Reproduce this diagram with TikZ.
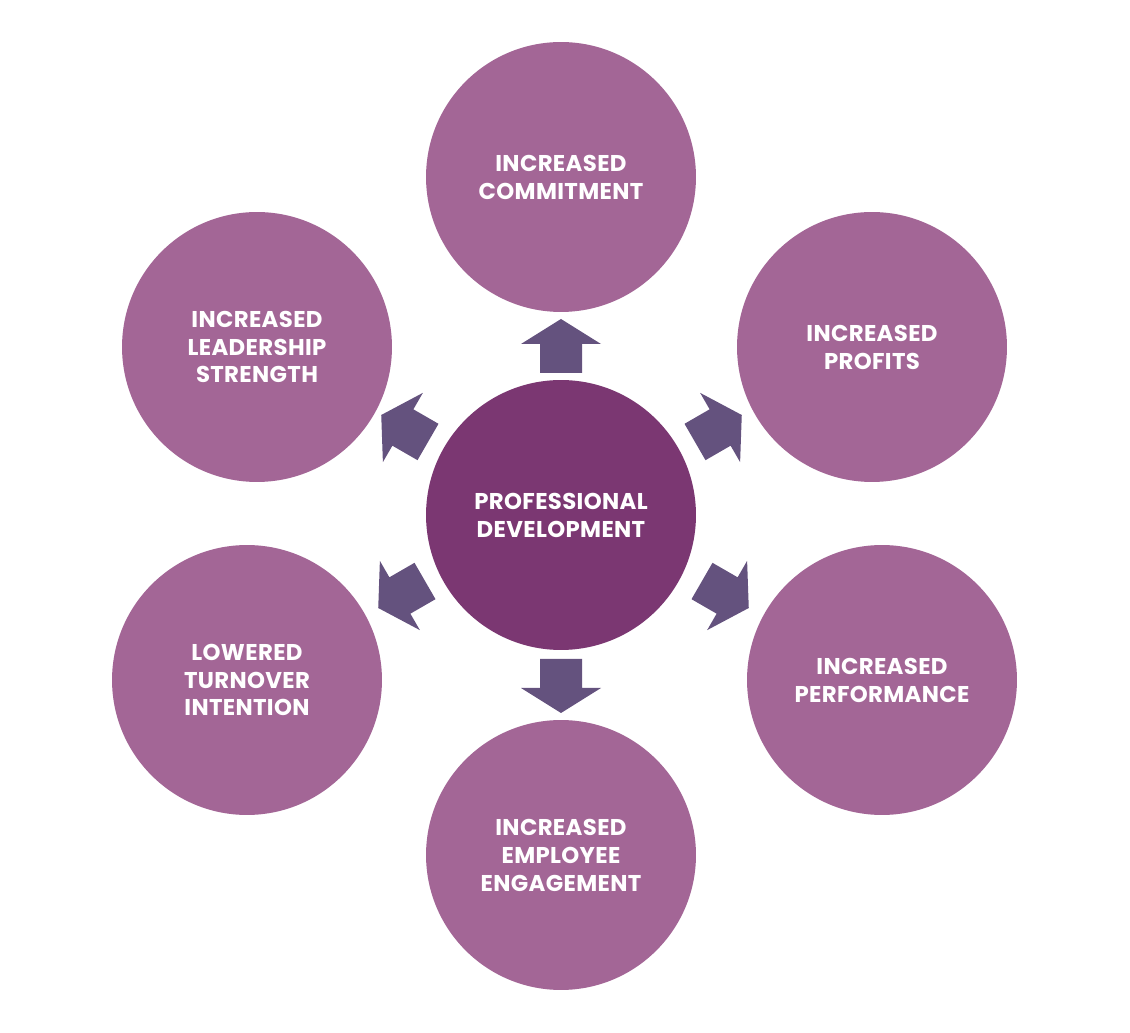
\documentclass[tikz,border=0pt]{standalone}
\usepackage{fontspec}
\setmainfont{Poppins}
\usepackage{tikz}
\usetikzlibrary{positioning}

\definecolor{hub}{RGB}{123,55,114}
\definecolor{petal}{RGB}{163,102,150}
\definecolor{arrowfill}{RGB}{100,82,126}

\tikzset{
  bubble/.style={circle, minimum size=5.4cm, inner sep=0pt, text=white, align=center,
    font=\bfseries\fontsize{13}{15.9}\selectfont\addfontfeatures{LetterSpace=1.5}},
  outer/.style={bubble, fill=petal},
  blockarrow/.pic={
    \fill[arrowfill] (0,-21) -- (29,-21) -- (29,-40) -- (54,0) -- (29,40) -- (29,21) -- (0,21) -- cycle;}
}

\begin{document}
\begin{tikzpicture}[x=0.02cm, y=-0.02cm]
        \useasboundingbox (0,0) rectangle (1130,1033);

        \node[bubble, fill=hub] (PD) at (561, 515) {PROFESSIONAL\\DEVELOPMENT};

        \node[outer] (C) at (561, 177) {INCREASED\\COMMITMENT};
        \node[outer] (P) at (872, 347) {INCREASED\\PROFITS};
        \node[outer] (F) at (882, 680) {INCREASED\\PERFORMANCE};
        \node[outer] (E) at (561, 855) {INCREASED\\EMPLOYEE\\ENGAGEMENT};
        \node[outer] (T) at (247, 680) {LOWERED\\TURNOVER\\INTENTION};
        \node[outer] (L) at (257, 347) {INCREASED\\LEADERSHIP\\STRENGTH};

        \foreach \x/\y/\a in {561/373/90, 695/442/30, 702/581/-30,
                              561/659/-90, 425/581/-150, 428/442/150}
          \pic[shift={(\x,\y)}, rotate=\a] {blockarrow};
      \end{tikzpicture}
\end{document}
